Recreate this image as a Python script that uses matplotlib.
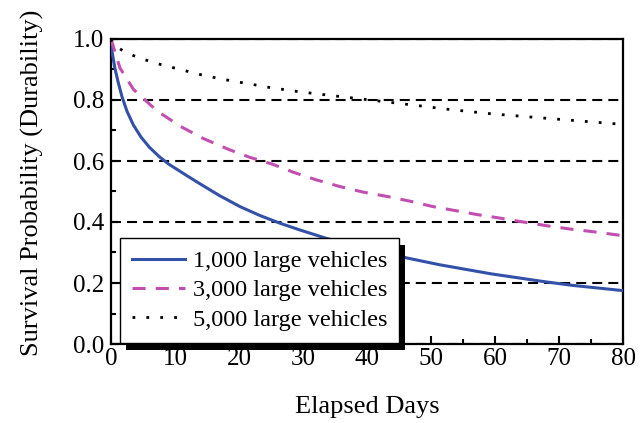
import matplotlib
matplotlib.use("Agg")
import matplotlib.pyplot as plt
import matplotlib.patheffects as pe
from matplotlib.ticker import MultipleLocator

# Survival curves
days_1000 = [0, 0.15, 0.6, 1.1, 1.7, 2.5, 3.5, 4.7, 6, 7.5, 9, 10.5, 12, 14, 17, 20.2, 23.3, 26.4,
             29.5, 33.7, 40, 45.8, 51.3, 59.4, 67.5, 72.2, 80]
surv_1000 = [1.0, 0.96, 0.905, 0.86, 0.812, 0.763, 0.718, 0.678, 0.645, 0.615, 0.59, 0.57, 0.55,
             0.524, 0.486, 0.45, 0.421, 0.396, 0.374, 0.346, 0.311, 0.284, 0.26, 0.23, 0.205, 0.192,
             0.175]

days_3000 = [0, 0.3, 1.4, 3.5, 7.2, 10.9, 14.4, 18.5, 21.7, 25.3, 28.5, 32.1, 35.8, 39.4, 43.1, 47,
             50.2, 53.9, 57.3, 60.7, 64.4, 68, 71.7, 75.4, 80]
surv_3000 = [1.0, 0.98, 0.905, 0.835, 0.764, 0.713, 0.674, 0.637, 0.612, 0.589, 0.563, 0.538, 0.516,
             0.498, 0.484, 0.467, 0.451, 0.437, 0.424, 0.413, 0.40, 0.388, 0.377, 0.368, 0.355]

days_5000 = [0, 0.5, 1.9, 4.1, 6.2, 8.3, 10.5, 12.5, 14.6, 16.8, 19, 21, 23.2, 25.3, 27.5, 29.4, 38,
             46.6, 52.9, 59.3, 65.7, 72.2, 80]
surv_5000 = [1.0, 0.98, 0.961, 0.94, 0.926, 0.913, 0.902, 0.891, 0.88, 0.871, 0.862, 0.855, 0.847,
             0.839, 0.833, 0.827, 0.806, 0.785, 0.769, 0.755, 0.744, 0.733, 0.72]

labels = ["1,000 large vehicles", "3,000 large vehicles", "5,000 large vehicles"]

plt.rcParams["font.family"] = ["Liberation Serif", "DejaVu Serif"]

fig = plt.figure(figsize=(6.44, 4.23), dpi=100)
ax = fig.add_axes([111 / 644, 79 / 423, 512 / 644, 305 / 423])

ax.plot(days_1000, surv_1000, color="#3451A8", lw=2.2, label=labels[0], zorder=3)
ax.plot(days_3000, surv_3000, color="#C24FB0", lw=2.2, ls=(0, (4.3, 3.3)), label=labels[1], zorder=3)
ax.plot(days_5000, surv_5000, color="black", lw=2.0, ls=(0, (1, 4)), label=labels[2], zorder=3)

ax.set_xlim(0, 80)
ax.set_ylim(0, 1.0)
ax.xaxis.set_major_locator(MultipleLocator(10))
ax.xaxis.set_minor_locator(MultipleLocator(5))
ax.yaxis.set_major_locator(MultipleLocator(0.2))
ax.yaxis.set_minor_locator(MultipleLocator(0.1))
ax.yaxis.set_major_formatter(lambda v, p: f"{v:.1f}")

ax.tick_params(which="both", direction="in", top=False, right=False, width=1.5, labelsize=18)
ax.tick_params(axis="y", which="major", length=5, pad=5)
ax.tick_params(axis="x", which="major", length=6, pad=3)
ax.tick_params(which="minor", length=3.5)

for sp in ax.spines.values():
    sp.set_linewidth(1.6)

# dashed horizontal reference lines
ax.yaxis.grid(True, which="major", color="black", lw=1.5, ls=(0, (4.8, 2.9)))
ax.set_axisbelow(True)

ax.set_xlabel("Elapsed Days", fontsize=19)
ax.set_ylabel("Survival Probability (Durability)", fontsize=19)
ax.xaxis.set_label_coords(0.5, -0.17)
ax.yaxis.set_label_coords(-0.131, 0.53)

leg = ax.legend(loc="upper left", bbox_to_anchor=(0.018, 0.348), fontsize=17.5, fancybox=False,
                framealpha=1, edgecolor="black", handlelength=2.15, handletextpad=0.33,
                borderpad=0.5, labelspacing=0.3, borderaxespad=0)
leg.get_frame().set_linewidth(1.0)
leg.get_frame().set_path_effects([
    pe.SimplePatchShadow(offset=(4, -5), shadow_rgbFace="black", alpha=1),
    pe.Normal(),
])

fig.savefig("out.png", dpi=100)
